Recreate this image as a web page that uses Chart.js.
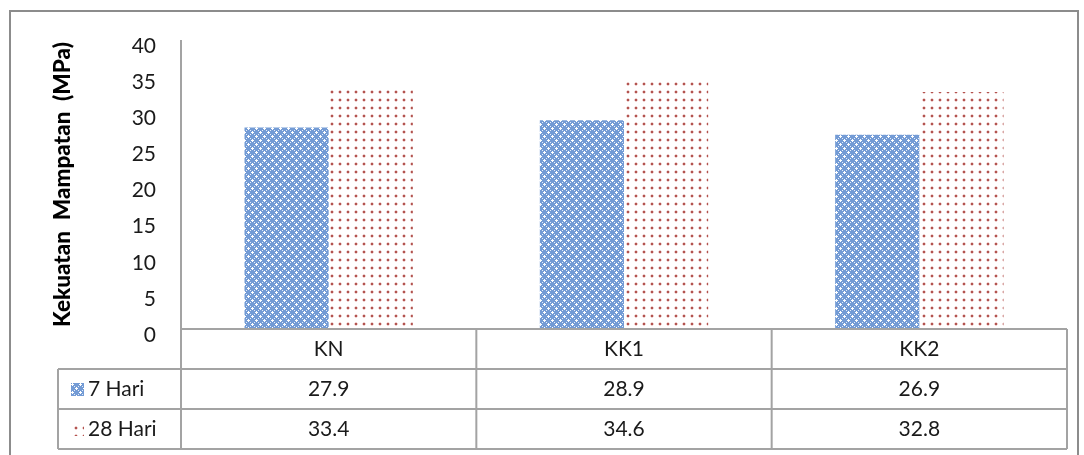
<!DOCTYPE html>
<html>
<head>
<meta charset="utf-8">
<script src="https://cdn.jsdelivr.net/npm/chart.js@4.4.1/dist/chart.umd.min.js"></script>
<style>
  body { margin: 0; background: #fff; }
  #wrap { width: 1084px; height: 455px; position: relative; }
</style>
</head>
<body>
<div id="wrap"><canvas id="kekuatanMampatan"></canvas></div>
<script>
var kategori = ["KN", "KK1", "KK2"];
var hari7 = [27.9, 28.9, 26.9];
var hari28 = [33.4, 34.6, 32.8];
var namaSiri = ["7 Hari", "28 Hari"];
var yMin = 0, yMax = 40, yStep = 5;
var tajukY = "Kekuatan  Mampatan  (MPa)";

var FONT = "Lato, 'Open Sans', sans-serif";
var garis = "#a3a3a3";

var cv = document.getElementById("kekuatanMampatan");
var ctxUtama = cv.getContext("2d");

// corak biru: latar biru, lubang putih bentuk tambah
function corakBiru() {
  var c = document.createElement("canvas");
  c.width = 8; c.height = 8;
  var g = c.getContext("2d");
  g.fillStyle = "#739bd5";
  g.fillRect(0, 0, 8, 8);
  g.fillStyle = "#fff";
  var lubang = [[4,3],[3,4],[4,4],[5,4],[4,5],[0,7],[7,0],[0,0],[1,0],[0,1]];
  lubang.forEach(function(p) { g.fillRect(p[0], p[1], 1, 1); });
  g.fillStyle = "rgba(255,255,255,0.8)";
  [[2,2],[6,6],[2,6],[6,2]].forEach(function(p) { g.fillRect(p[0], p[1], 1, 1); });
  return ctxUtama.createPattern(c, "repeat");
}

// corak titik merah
function corakMerah() {
  var c = document.createElement("canvas");
  c.width = 8; c.height = 8;
  var g = c.getContext("2d");
  g.fillStyle = "#fff";
  g.fillRect(0, 0, 8, 8);
  g.fillStyle = "rgba(192,80,77,0.25)";
  g.fillRect(2, 3, 4, 2);
  g.fillRect(3, 2, 2, 4);
  g.fillStyle = "#b25450";
  g.fillRect(3, 3, 2, 2);
  return ctxUtama.createPattern(c, "repeat");
}

var warnaSiri = [corakBiru(), corakMerah()];
var dataSiri = [hari7, hari28];

var jadualPlugin = {
  id: "jadual",
  beforeDraw: function(chart) {
    var ctx = chart.ctx;
    ctx.save();
    ctx.strokeStyle = "#8c8c8c";
    ctx.lineWidth = 2;
    ctx.strokeRect(10, 11, 1068, 460);
    ctx.restore();
  },
  afterDraw: function(chart) {
    var ctx = chart.ctx, a = chart.chartArea, xs = chart.scales.x;
    var rowH = 40, top = a.bottom, x0 = 58;
    ctx.save();
    ctx.strokeStyle = garis;
    ctx.lineWidth = 2;
    ctx.beginPath();
    // paksi y + garisan jadual
    ctx.moveTo(a.left, a.top); ctx.lineTo(a.left, top + rowH * 3);
    ctx.moveTo(a.left, top); ctx.lineTo(a.right, top);
    for (var r = 1; r <= 3; r++) {
      ctx.moveTo(x0, top + rowH * r); ctx.lineTo(a.right, top + rowH * r);
    }
    ctx.moveTo(x0, top + rowH); ctx.lineTo(x0, top + rowH * 3);
    for (var i = 1; i < kategori.length; i++) {
      var bx = (xs.getPixelForValue(i - 1) + xs.getPixelForValue(i)) / 2;
      ctx.moveTo(bx, top); ctx.lineTo(bx, top + rowH * 3);
    }
    ctx.moveTo(a.right, top); ctx.lineTo(a.right, top + rowH * 3);
    ctx.stroke();

    ctx.fillStyle = "#1a1a1a";
    ctx.font = "21px " + FONT;
    ctx.textAlign = "center";
    ctx.textBaseline = "middle";
    for (var k = 0; k < kategori.length; k++) {
      var cx = xs.getPixelForValue(k);
      ctx.fillText(kategori[k], cx, top + rowH / 2);
      for (var s = 0; s < dataSiri.length; s++) {
        ctx.fillText(dataSiri[s][k].toFixed(1), cx, top + rowH * (s + 1.5));
      }
    }
    // label siri + kunci
    ctx.textAlign = "left";
    for (var s2 = 0; s2 < namaSiri.length; s2++) {
      var yy = top + rowH * (s2 + 1.5);
      ctx.fillStyle = warnaSiri[s2];
      ctx.fillRect(71, Math.round(yy - 6), 13, 13);
      ctx.fillStyle = "#1a1a1a";
      ctx.fillText(namaSiri[s2], 88, yy);
    }
    ctx.restore();
  }
};

new Chart(cv, {
  type: "bar",
  data: {
    labels: kategori,
    datasets: [{
      label: namaSiri[0],
      data: hari7,
      backgroundColor: warnaSiri[0],
      borderWidth: 0
    }, {
      label: namaSiri[1],
      data: hari28,
      backgroundColor: warnaSiri[1],
      borderWidth: 0
    }]
  },
  options: {
    responsive: true,
    maintainAspectRatio: false,
    animation: false,
    layout: { padding: { left: 47, top: 40, right: 17, bottom: 126 } },
    plugins: { legend: { display: false }, tooltip: { enabled: false } },
    datasets: { bar: { categoryPercentage: 0.57, barPercentage: 1 } },
    scales: {
      x: { display: false },
      y: {
        min: yMin, max: yMax,
        grid: { display: false, drawTicks: false },
        border: { display: false },
        ticks: {
          stepSize: yStep,
          padding: 25,
          labelOffset: 6,
          color: "#1a1a1a",
          font: { family: FONT, size: 21 }
        },
        title: {
          display: true,
          text: tajukY,
          color: "#000",
          padding: { top: 2, bottom: 0 },
          font: { family: FONT, size: 22.5, weight: "900" }
        },
        afterFit: function(s) { s.width = 181 - 47; }
      }
    }
  },
  plugins: [jadualPlugin]
});
</script>
</body>
</html>
